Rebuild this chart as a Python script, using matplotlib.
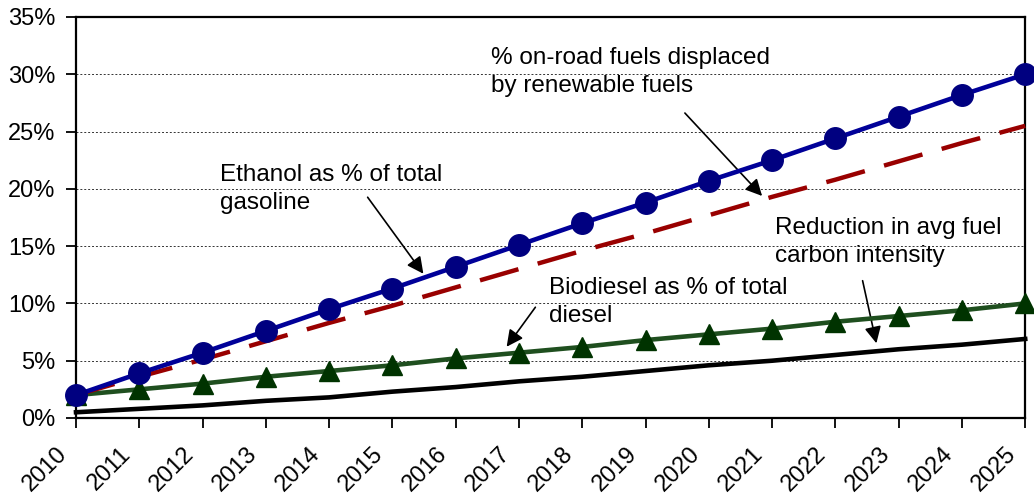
import matplotlib.pyplot as plt
import matplotlib.transforms as mtransforms
from matplotlib.ticker import FuncFormatter

plt.rcParams['font.family'] = ['Liberation Sans', 'DejaVu Sans']

# --- Data ---
years = list(range(2010, 2026))
displaced = [2.0, 3.9, 5.7, 7.6, 9.5, 11.3, 13.2, 15.1, 17.0, 18.8, 20.7, 22.5, 24.4, 26.3, 28.2, 30.0]
ethanol = [2.0, 3.6, 5.1, 6.7, 8.3, 9.8, 11.4, 13.0, 14.6, 16.1, 17.7, 19.3, 20.8, 22.4, 24.0, 25.5]
biodiesel = [2.0, 2.5, 3.0, 3.6, 4.1, 4.6, 5.2, 5.7, 6.2, 6.8, 7.3, 7.8, 8.4, 8.9, 9.4, 10.0]
carbon = [0.5, 0.8, 1.1, 1.5, 1.8, 2.3, 2.7, 3.2, 3.6, 4.1, 4.6, 5.0, 5.5, 6.0, 6.4, 6.9]

fig = plt.figure(figsize=(10.34, 5.0), dpi=100)
ax = fig.add_axes([0.0735, 0.164, 0.918, 0.802])

ax.plot(years, carbon, color='black', lw=3.3, clip_on=False, zorder=3)
ax.plot(years, biodiesel, color='#1f4f1f', lw=3.3, marker='^', ms=15,
        mfc='#003300', mec='#003300', clip_on=False, zorder=4)
ax.plot(years, ethanol, color='#990000', lw=3.2, dashes=(9, 4.5), clip_on=False, zorder=5)
ax.plot(years, displaced, color='#000099', lw=3.3, marker='o', ms=15.5,
        mfc='#000080', mec='#000080', clip_on=False, zorder=6)

ax.set_xlim(2010, 2025)
ax.set_ylim(0, 35)
ax.set_xticks(years)
ax.set_xticklabels([str(y) for y in years], rotation=45, ha='right', rotation_mode='anchor')
ax.set_yticks(range(0, 36, 5))
ax.yaxis.set_major_formatter(FuncFormatter(lambda v, p: f"{v:.0f}%"))
ax.tick_params(axis='both', labelsize=17, direction='out', length=7, width=1.3, colors='black')
ax.tick_params(axis='y', pad=8)
ax.tick_params(axis='x', pad=6)

# nudge rotated year labels down/left like the original
offset = mtransforms.ScaledTranslation(-20 / 100, -7 / 100, fig.dpi_scale_trans)
for lab in ax.get_xticklabels():
    lab.set_transform(lab.get_transform() + offset)

ax.grid(axis='y', color='#333333', linestyle=(0, (2, 2)), linewidth=0.7)
ax.set_axisbelow(True)
for s in ax.spines.values():
    s.set_linewidth(1.6)
    s.set_color('black')

fs = 17.5
arrow = dict(arrowstyle='-|>', color='black', lw=1.2, mutation_scale=25)

def px(x, y):
    # figure pixel (from top-left) -> figure fraction
    return (x / 1034, 1 - y / 500)

ax.text(*px(220, 164), "Ethanol as % of total\ngasoline", transform=fig.transFigure,
        fontsize=fs, va='top', ha='left', linespacing=1.35)
ax.annotate("", xy=px(425, 276), xytext=px(366, 195), xycoords='figure fraction',
            textcoords='figure fraction', arrowprops=arrow)

ax.text(*px(491, 47), "% on-road fuels displaced\nby renewable fuels", transform=fig.transFigure,
        fontsize=fs, va='top', ha='left', linespacing=1.35)
ax.annotate("", xy=px(764, 198), xytext=px(683, 111), xycoords='figure fraction',
            textcoords='figure fraction', arrowprops=arrow)

ax.text(*px(549, 277), "Biodiesel as % of total\ndiesel", transform=fig.transFigure,
        fontsize=fs, va='top', ha='left', linespacing=1.35)
ax.annotate("", xy=px(505, 349), xytext=px(537, 305), xycoords='figure fraction',
            textcoords='figure fraction', arrowprops=arrow)

ax.text(*px(775, 217), "Reduction in avg fuel\ncarbon intensity", transform=fig.transFigure,
        fontsize=fs, va='top', ha='left', linespacing=1.35)
ax.annotate("", xy=px(877, 346), xytext=px(862, 278), xycoords='figure fraction',
            textcoords='figure fraction', arrowprops=arrow)

fig.savefig('out.png', dpi=100)
